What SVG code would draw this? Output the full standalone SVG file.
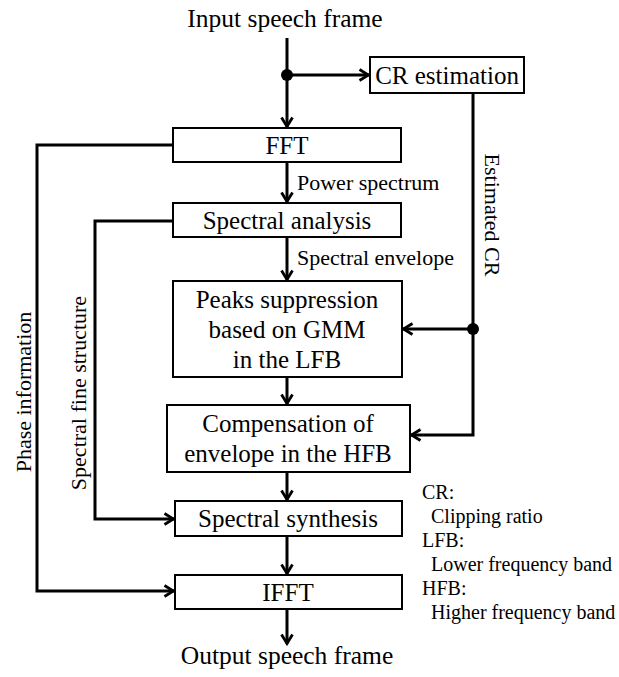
<svg xmlns="http://www.w3.org/2000/svg" width="619" height="677" viewBox="0 0 619 677" font-family="'Liberation Serif', 'Times New Roman', serif">
  <style>
    text { font-family: "Liberation Serif", "Times New Roman", serif; fill: #000; }
    .box rect { fill: #fff; stroke: #000; stroke-width: 2; }
    .box text { font-size: 25px; text-anchor: middle; }
    .lbl { font-size: 22px; }
    .io { font-size: 25.5px; text-anchor: middle; }
    .legend { font-size: 20px; }
    .wire { fill: none; stroke: #000; stroke-width: 3; }
  </style>
  <defs>
    <marker id="arrow" viewBox="0 0 14 14" refX="12.5" refY="7" markerWidth="14" markerHeight="14" markerUnits="userSpaceOnUse" orient="auto">
      <path d="M3,1.5 L12,7 L3,12.5" fill="none" stroke="#000" stroke-width="2.8"/>
    </marker>
  </defs>

  <rect width="619" height="677" fill="#fff"/>

  <!-- terminals -->
  <text class="io" x="285" y="27">Input speech frame</text>
  <text class="io" x="287" y="664">Output speech frame</text>

  <!-- connectors -->
  <g id="connectors" class="wire">
    <path d="M287,38 V127" marker-end="url(#arrow)"/>
    <path d="M287,75 H369" marker-end="url(#arrow)"/>
    <circle cx="287" cy="75" r="6" fill="#000" stroke="none"/>
    <path d="M287,162 V202" marker-end="url(#arrow)"/>
    <path d="M287,237 V280" marker-end="url(#arrow)"/>
    <path d="M287,377 V404" marker-end="url(#arrow)"/>
    <path d="M287,472 V500" marker-end="url(#arrow)"/>
    <path d="M287,536 V574" marker-end="url(#arrow)"/>
    <path d="M287,609 V644" marker-end="url(#arrow)"/>
    <path d="M473,93 V435 H411" marker-end="url(#arrow)"/>
    <path d="M473,329 H403" marker-end="url(#arrow)"/>
    <circle cx="473" cy="329" r="6" fill="#000" stroke="none"/>
    <path d="M173,145 H37 V591 H174" marker-end="url(#arrow)"/>
    <path d="M173,221 H95 V519 H174" marker-end="url(#arrow)"/>
  </g>

  <!-- connector labels -->
  <text class="lbl" x="297" y="190">Power spectrum</text>
  <text class="lbl" x="297" y="265">Spectral envelope</text>
  <text class="lbl" text-anchor="middle" transform="translate(23,392) rotate(-90)" dy="8">Phase information</text>
  <text class="lbl" text-anchor="middle" transform="translate(78,393) rotate(-90)" dy="8">Spectral fine structure</text>
  <text class="lbl" text-anchor="middle" transform="translate(493,215) rotate(90)" dy="8">Estimated CR</text>

  <!-- nodes -->
  <g id="cr-estimation" class="box">
    <rect x="370" y="57" width="154" height="36"/>
    <text x="447" y="84">CR estimation</text>
  </g>
  <g id="fft" class="box">
    <rect x="173" y="128" width="228" height="34"/>
    <text x="287" y="154">FFT</text>
  </g>
  <g id="spectral-analysis" class="box">
    <rect x="173" y="203" width="228" height="34"/>
    <text x="287" y="229">Spectral analysis</text>
  </g>
  <g id="peaks-suppression" class="box">
    <rect x="173" y="281" width="229" height="96"/>
    <text x="287" y="308">Peaks suppression</text>
    <text x="287" y="338">based on GMM</text>
    <text x="287" y="368">in the LFB</text>
  </g>
  <g id="compensation" class="box">
    <rect x="167" y="405" width="243" height="67"/>
    <text x="288" y="432">Compensation of</text>
    <text x="288" y="462">envelope in the HFB</text>
  </g>
  <g id="spectral-synthesis" class="box">
    <rect x="175" y="501" width="227" height="35"/>
    <text x="288" y="527">Spectral synthesis</text>
  </g>
  <g id="ifft" class="box">
    <rect x="175" y="575" width="227" height="34"/>
    <text x="288" y="601">IFFT</text>
  </g>

  <!-- abbreviations -->
  <g id="legend" class="legend">
    <text x="422" y="499">CR:</text>
    <text x="431" y="523">Clipping ratio</text>
    <text x="422" y="547">LFB:</text>
    <text x="431" y="571">Lower frequency band</text>
    <text x="422" y="595">HFB:</text>
    <text x="431" y="619">Higher frequency band</text>
  </g>
</svg>
